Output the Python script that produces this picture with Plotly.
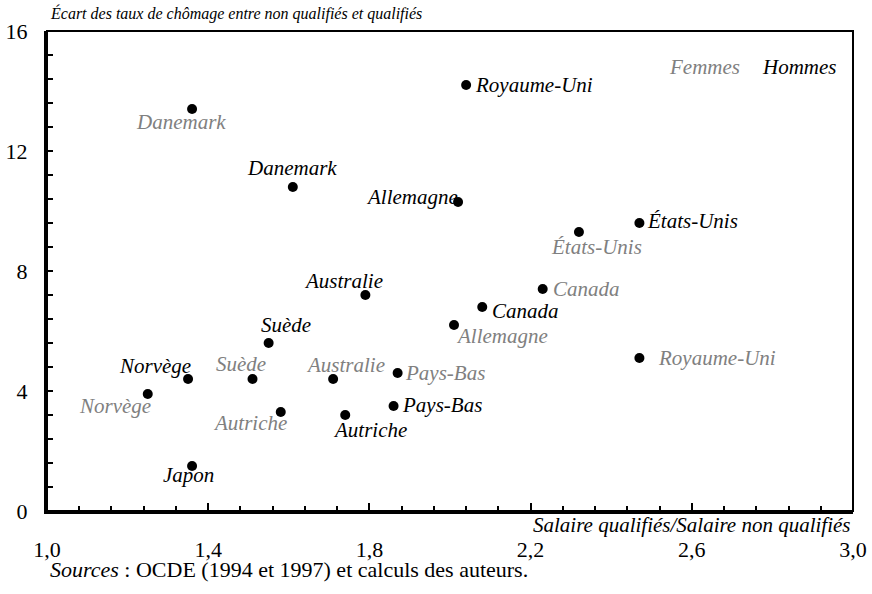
import plotly.graph_objects as go

# ---- data ----
hommes_pays = ["Royaume-Uni", "Danemark", "Allemagne", "États-Unis", "Australie",
               "Canada", "Suède", "Norvège", "Pays-Bas", "Autriche", "Japon"]
hommes_salaire = [2.04, 1.61, 2.02, 2.47, 1.79, 2.08, 1.55, 1.35, 1.86, 1.74, 1.36]
hommes_ecart = [14.2, 10.8, 10.3, 9.6, 7.2, 6.8, 5.6, 4.4, 3.5, 3.2, 1.5]

femmes_pays = ["Danemark", "États-Unis", "Canada", "Allemagne", "Royaume-Uni",
               "Pays-Bas", "Australie", "Suède", "Norvège", "Autriche"]
femmes_salaire = [1.36, 2.32, 2.23, 2.01, 2.47, 1.87, 1.71, 1.51, 1.25, 1.58]
femmes_ecart = [13.4, 9.3, 7.4, 6.2, 5.1, 4.6, 4.4, 4.4, 3.9, 3.3]

x_ticks = [1.0, 1.4, 1.8, 2.2, 2.6, 3.0]
y_ticks = [0, 4, 8, 12, 16]

# label placement (xanchor, xshift px, yshift px) - styling only
hommes_place = [("left", 7, 0), ("center", -1, 19), ("right", 2, 5), ("left", 6, 2),
                ("center", -22, 14), ("left", 8, -4), ("center", 17, 18),
                ("right", 5, 13), ("left", 6, 1), ("center", 25, -15), ("center", -4, -9)]
femmes_place = [("center", -11, -13), ("center", 18, -15), ("left", 8, 0), ("left", 0, -11),
                ("left", 17, 0), ("left", 5, 0), ("center", 12, 14), ("center", -12, 15),
                ("center", -33, -12), ("center", -31, -11)]

FONT = "Liberation Serif, Times New Roman, serif"
GRAY = "#808080"
LBL = 21

fig = go.Figure()
fig.add_trace(go.Scatter(x=hommes_salaire, y=hommes_ecart, mode="markers",
                         marker=dict(color="black", size=10), name="Hommes", hoverinfo="skip"))
fig.add_trace(go.Scatter(x=femmes_salaire, y=femmes_ecart, mode="markers",
                         marker=dict(color="black", size=10), name="Femmes", hoverinfo="skip"))

annotations = []
for pays, xv, yv, (xa, xs, ys) in zip(hommes_pays, hommes_salaire, hommes_ecart, hommes_place):
    annotations.append(dict(x=xv, y=yv, xref="x", yref="y", text=pays, showarrow=False,
                            xanchor=xa, yanchor="middle", xshift=xs, yshift=ys,
                            font=dict(family=FONT, size=LBL, color="black", style="italic")))
for pays, xv, yv, (xa, xs, ys) in zip(femmes_pays, femmes_salaire, femmes_ecart, femmes_place):
    annotations.append(dict(x=xv, y=yv, xref="x", yref="y", text=pays, showarrow=False,
                            xanchor=xa, yanchor="middle", xshift=xs, yshift=ys,
                            font=dict(family=FONT, size=LBL, color=GRAY, style="italic")))

# legend-like labels
annotations.append(dict(x=0.862, y=0.925, xref="paper", yref="paper", text="Femmes",
                        showarrow=False, xanchor="right", yanchor="middle",
                        font=dict(family=FONT, size=LBL, color=GRAY, style="italic")))
annotations.append(dict(x=0.885, y=0.925, xref="paper", yref="paper", text="Hommes",
                        showarrow=False, xanchor="left", yanchor="middle",
                        font=dict(family=FONT, size=LBL, color="black", style="italic")))
# axis titles
annotations.append(dict(x=0.001, y=1.037, xref="paper", yref="paper",
                        text="Écart des taux de chômage entre non qualifiés et qualifiés",
                        showarrow=False, xanchor="left", yanchor="middle",
                        font=dict(family=FONT, size=16, color="black", style="italic")))
annotations.append(dict(x=1.0, y=-0.029, xref="paper", yref="paper",
                        text="Salaire qualifiés/Salaire non qualifiés",
                        showarrow=False, xanchor="right", yanchor="middle",
                        font=dict(family=FONT, size=21, color="black", style="italic")))
annotations.append(dict(x=0.001, y=-0.121, xref="paper", yref="paper",
                        text="<i>Sources</i> : OCDE (1994 et 1997) et calculs des auteurs.",
                        showarrow=False, xanchor="left", yanchor="middle",
                        font=dict(family=FONT, size=22, color="black")))

fig.update_layout(
    width=872, height=594,
    margin=dict(l=47, r=19, t=31, b=83, autoexpand=False),
    paper_bgcolor="white", plot_bgcolor="white",
    showlegend=False,
    separators=", ",
    font=dict(family=FONT, size=22, color="black"),
    annotations=annotations,
    shapes=[dict(type="rect", xref="paper", yref="paper", x0=0, y0=0, x1=1, y1=1,
                 line=dict(color="black", width=2), layer="above")],
)
fig.update_xaxes(range=[1.0, 3.0], tickvals=x_ticks, tickformat=".1f", automargin=False,
                 showgrid=False, zeroline=False, showline=True, linecolor="black", linewidth=3,
                 ticks="inside", ticklen=8, tickwidth=2, tickcolor="black",
                 ticklabelstandoff=17,
                 minor=dict(dtick=0.08, tick0=1.0, ticks="inside", ticklen=5, tickwidth=2,
                            tickcolor="black", showgrid=False),
                 tickfont=dict(family=FONT, size=22))
fig.update_yaxes(range=[0, 16], tickvals=y_ticks, automargin=False,
                 showgrid=False, zeroline=False, showline=True, linecolor="black", linewidth=3,
                 ticks="inside", ticklen=6, tickwidth=2, tickcolor="black",
                 ticklabelstandoff=12,
                 minor=dict(dtick=0.8, tick0=0, ticks="inside", ticklen=6, tickwidth=2,
                            tickcolor="black", showgrid=False),
                 tickfont=dict(family=FONT, size=22))

fig.write_html("out.html", config={"displayModeBar": False},
               post_script="document.body.style.margin='0';")
